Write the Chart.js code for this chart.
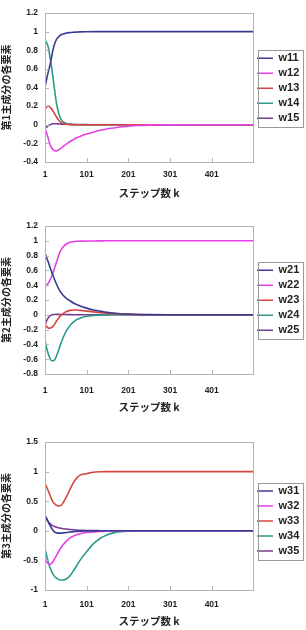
<!DOCTYPE html>
<html>
<head>
<meta charset="utf-8">
<script src="https://cdn.jsdelivr.net/npm/chart.js@4.4.1/dist/chart.umd.min.js"></script>
<style>
  html, body { margin: 0; padding: 0; background: #fff; }
  .wrap { width: 306px; height: 210px; }
  canvas { display: block; }
</style>
</head>
<body>
<div class="wrap"><canvas id="chart1" width="306" height="210"></canvas></div>
<div class="wrap"><canvas id="chart2" width="306" height="210"></canvas></div>
<div class="wrap"><canvas id="chart3" width="306" height="210"></canvas></div>
<script>
// sampled steps (same for every series)
const steps = [1, 5, 9, 13, 17, 21, 25, 29, 33, 37, 41, 45, 53, 61, 69, 77, 85, 101, 117, 133, 149, 165, 181, 201, 225, 250, 300, 350, 400, 450, 500];
const xTicks = [1, 101, 201, 301, 401];

// 1st principal component
const w11 = [0.40, 0.49, 0.57, 0.64, 0.73, 0.82, 0.88, 0.92, 0.94, 0.96, 0.97, 0.975, 0.985, 0.99, 0.993, 0.995, 0.997, 0.999, 1, 1, 1, 1, 1, 1, 1, 1, 1, 1, 1, 1, 1];
const w12 = [-0.04, -0.09, -0.15, -0.21, -0.25, -0.27, -0.28, -0.28, -0.27, -0.26, -0.245, -0.23, -0.205, -0.18, -0.16, -0.14, -0.125, -0.10, -0.08, -0.06, -0.045, -0.035, -0.025, -0.015, -0.008, -0.004, -0.001, 0, 0, 0, 0];
const w13 = [0.17, 0.19, 0.20, 0.19, 0.17, 0.14, 0.11, 0.08, 0.055, 0.035, 0.02, 0.012, 0.005, 0.002, 0, 0, 0, 0, 0, 0, 0, 0, 0, 0, 0, 0, 0, 0, 0, 0, 0];
const w14 = [0.91, 0.88, 0.83, 0.73, 0.61, 0.48, 0.34, 0.22, 0.14, 0.08, 0.05, 0.03, 0.012, 0.005, 0.002, 0.001, 0, 0, 0, 0, 0, 0, 0, 0, 0, 0, 0, 0, 0, 0, 0];
const w15 = [-0.04, -0.025, -0.01, 0, 0.008, 0.01, 0.01, 0.01, 0.009, 0.008, 0.007, 0.006, 0.005, 0.004, 0.003, 0.002, 0.002, 0.001, 0, 0, 0, 0, 0, 0, 0, 0, 0, 0, 0, 0, 0];

// 2nd principal component
const w21 = [0.83, 0.77, 0.71, 0.64, 0.58, 0.52, 0.46, 0.41, 0.36, 0.32, 0.29, 0.26, 0.22, 0.19, 0.16, 0.14, 0.12, 0.09, 0.065, 0.05, 0.035, 0.025, 0.015, 0.01, 0.005, 0.002, 0, 0, 0, 0, 0];
const w22 = [0.38, 0.40, 0.43, 0.47, 0.52, 0.58, 0.65, 0.72, 0.79, 0.85, 0.89, 0.92, 0.96, 0.98, 0.988, 0.993, 0.995, 0.997, 0.998, 0.999, 1, 1, 1, 1, 1, 1, 1, 1, 1, 1, 1];
const w23 = [-0.13, -0.16, -0.18, -0.18, -0.17, -0.15, -0.12, -0.08, -0.05, -0.02, 0, 0.02, 0.045, 0.06, 0.065, 0.065, 0.06, 0.05, 0.04, 0.03, 0.022, 0.016, 0.01, 0.006, 0.003, 0.001, 0, 0, 0, 0, 0];
const w24 = [-0.34, -0.45, -0.53, -0.59, -0.62, -0.62, -0.60, -0.55, -0.49, -0.42, -0.36, -0.30, -0.21, -0.145, -0.10, -0.065, -0.045, -0.02, -0.01, -0.005, -0.002, 0, 0, 0, 0, 0, 0, 0, 0, 0, 0];
const w25 = [-0.14, -0.08, -0.04, -0.015, -0.003, 0.003, 0.005, 0.006, 0.006, 0.005, 0.005, 0.004, 0.003, 0.002, 0.001, 0, 0, 0, 0, 0, 0, 0, 0, 0, 0, 0, 0, 0, 0, 0, 0];

// 3rd principal component
const w31 = [0.26, 0.21, 0.15, 0.09, 0.04, 0, -0.025, -0.035, -0.04, -0.04, -0.038, -0.035, -0.028, -0.02, -0.014, -0.009, -0.006, -0.002, -0.001, 0, 0, 0, 0, 0, 0, 0, 0, 0, 0, 0, 0];
const w32 = [-0.46, -0.52, -0.56, -0.57, -0.55, -0.51, -0.46, -0.41, -0.36, -0.31, -0.27, -0.23, -0.17, -0.12, -0.09, -0.065, -0.05, -0.03, -0.018, -0.01, -0.005, -0.002, 0, 0, 0, 0, 0, 0, 0, 0, 0];
const w33 = [0.80, 0.74, 0.67, 0.60, 0.53, 0.48, 0.45, 0.43, 0.42, 0.42, 0.44, 0.48, 0.58, 0.70, 0.81, 0.89, 0.94, 0.965, 0.99, 0.998, 1, 1, 1, 1, 1, 1, 1, 1, 1, 1, 1];
const w34 = [-0.30, -0.42, -0.53, -0.62, -0.69, -0.74, -0.78, -0.80, -0.82, -0.83, -0.83, -0.83, -0.81, -0.76, -0.68, -0.59, -0.50, -0.35, -0.22, -0.13, -0.07, -0.035, -0.017, -0.007, -0.002, 0, 0, 0, 0, 0, 0];
const w35 = [0.23, 0.19, 0.15, 0.12, 0.095, 0.08, 0.07, 0.06, 0.05, 0.045, 0.04, 0.035, 0.028, 0.022, 0.017, 0.013, 0.01, 0.006, 0.003, 0.002, 0.001, 0, 0, 0, 0, 0, 0, 0, 0, 0, 0];

const colors = ["#3a3a94", "#e540e5", "#d6453d", "#2c9a8a", "#7a3b93"];
const tickFont = { family: "'Liberation Sans', Arial, sans-serif", size: 8.5, weight: "bold" };
const cjkFont = "'Noto Sans CJK JP', sans-serif";

const frame = {
  id: "frame",
  afterDatasetsDraw(chart) {
    const { ctx, chartArea: a, scales } = chart;
    ctx.save();
    ctx.strokeStyle = "#b4b4b4";
    ctx.lineWidth = 1;
    ctx.strokeRect(Math.round(a.left) + 0.5, Math.round(a.top) + 0.5, Math.round(a.width), Math.round(a.height));
    ctx.beginPath();
    scales.y.ticks.forEach((t) => {
      const y = Math.round(scales.y.getPixelForValue(t.value)) + 0.5;
      ctx.moveTo(a.left, y);
      ctx.lineTo(a.left + 4, y);
    });
    xTicks.forEach((v) => {
      const x = Math.round(scales.x.getPixelForValue(v)) + 0.5;
      ctx.moveTo(x, a.bottom);
      ctx.lineTo(x, a.bottom - 4);
    });
    ctx.stroke();
    // legend box
    const boxes = chart.legend.legendHitBoxes;
    if (boxes && boxes.length) {
      const top = boxes[0].top - 3;
      const last = boxes[boxes.length - 1];
      const bottom = last.top + last.height + 3;
      ctx.strokeStyle = "#9a9a9a";
      ctx.strokeRect(258.5, Math.round(top) + 0.5, 45, Math.round(bottom - top));
    }
    ctx.restore();
  },
};

function makeChart(id, names, series, yMin, yMax, yStep, yTitle, pad) {
  const datasets = series.map((vals, i) => ({
    label: names[i],
    data: vals.map((v, j) => ({ x: steps[j], y: v })),
    borderColor: colors[i],
    backgroundColor: colors[i],
    borderWidth: 1.6,
    pointRadius: 0,
    cubicInterpolationMode: "monotone",
  }));
  new Chart(document.getElementById(id), {
    type: "line",
    data: { datasets },
    options: {
      responsive: false,
      animation: false,
      devicePixelRatio: 1,
      layout: { padding: { top: pad.top, bottom: pad.bottom, left: 0, right: 0 } },
      plugins: {
        tooltip: { enabled: false },
        legend: {
          position: "right",
          align: "start",
          maxWidth: 53,
          title: { display: true, text: "", font: { size: 1 }, padding: { top: pad.legend, bottom: 0 } },
          labels: {
            usePointStyle: true,
            pointStyle: "line",
            pointStyleWidth: 16,
            boxHeight: 8,
            padding: 4,
            color: "#222",
            font: { family: "'Liberation Sans', Arial, sans-serif", size: 11, weight: "bold" },
          },
        },
      },
      scales: {
        x: {
          type: "linear",
          min: 1,
          max: 500,
          afterBuildTicks: (scale) => {
            scale.ticks = xTicks.map((v) => ({ value: v }));
          },
          afterFit: (scale) => {
            scale.height = pad.axis;
          },
          grid: { display: false, drawTicks: false },
          border: { display: false },
          ticks: { color: "#222", font: tickFont, padding: pad.tick, maxRotation: 0, autoSkip: false },
          title: {
            display: true,
            text: "ステップ数 k",
            color: "#222",
            font: { family: cjkFont, size: 10.5, weight: "bold" },
            padding: { top: 0, bottom: 0 },
          },
        },
        y: {
          min: yMin,
          max: yMax,
          afterFit: (scale) => {
            scale.width = 45;
          },
          grid: { display: false, drawTicks: false },
          border: { display: false },
          ticks: {
            stepSize: yStep,
            color: "#222",
            font: tickFont,
            padding: 7,
            callback: (value) => String(+value.toFixed(2)),
          },
          title: {
            display: true,
            text: yTitle,
            color: "#222",
            font: { family: cjkFont, size: 10, weight: "bold" },
            padding: { top: 0, bottom: 0 },
          },
        },
      },
    },
    plugins: [frame],
  });
}

makeChart("chart1", ["w11", "w12", "w13", "w14", "w15"], [w11, w12, w13, w14, w15], -0.4, 1.2, 0.2, "第1主成分の各要素", { top: 13, bottom: 10.7, axis: 37.3, tick: 8, legend: 34.6 });
makeChart("chart2", ["w21", "w22", "w23", "w24", "w25"], [w21, w22, w23, w24, w25], -0.8, 1.2, 0.2, "第2主成分の各要素", { top: 16, bottom: 6.7, axis: 39.3, tick: 12, legend: 33.6 });
makeChart("chart3", ["w31", "w32", "w33", "w34", "w35"], [w31, w32, w33, w34, w35], -1, 1.5, 0.5, "第3主成分の各要素", { top: 22, bottom: 2.7, axis: 37.3, tick: 10, legend: 38.3 });
</script>
</body>
</html>
